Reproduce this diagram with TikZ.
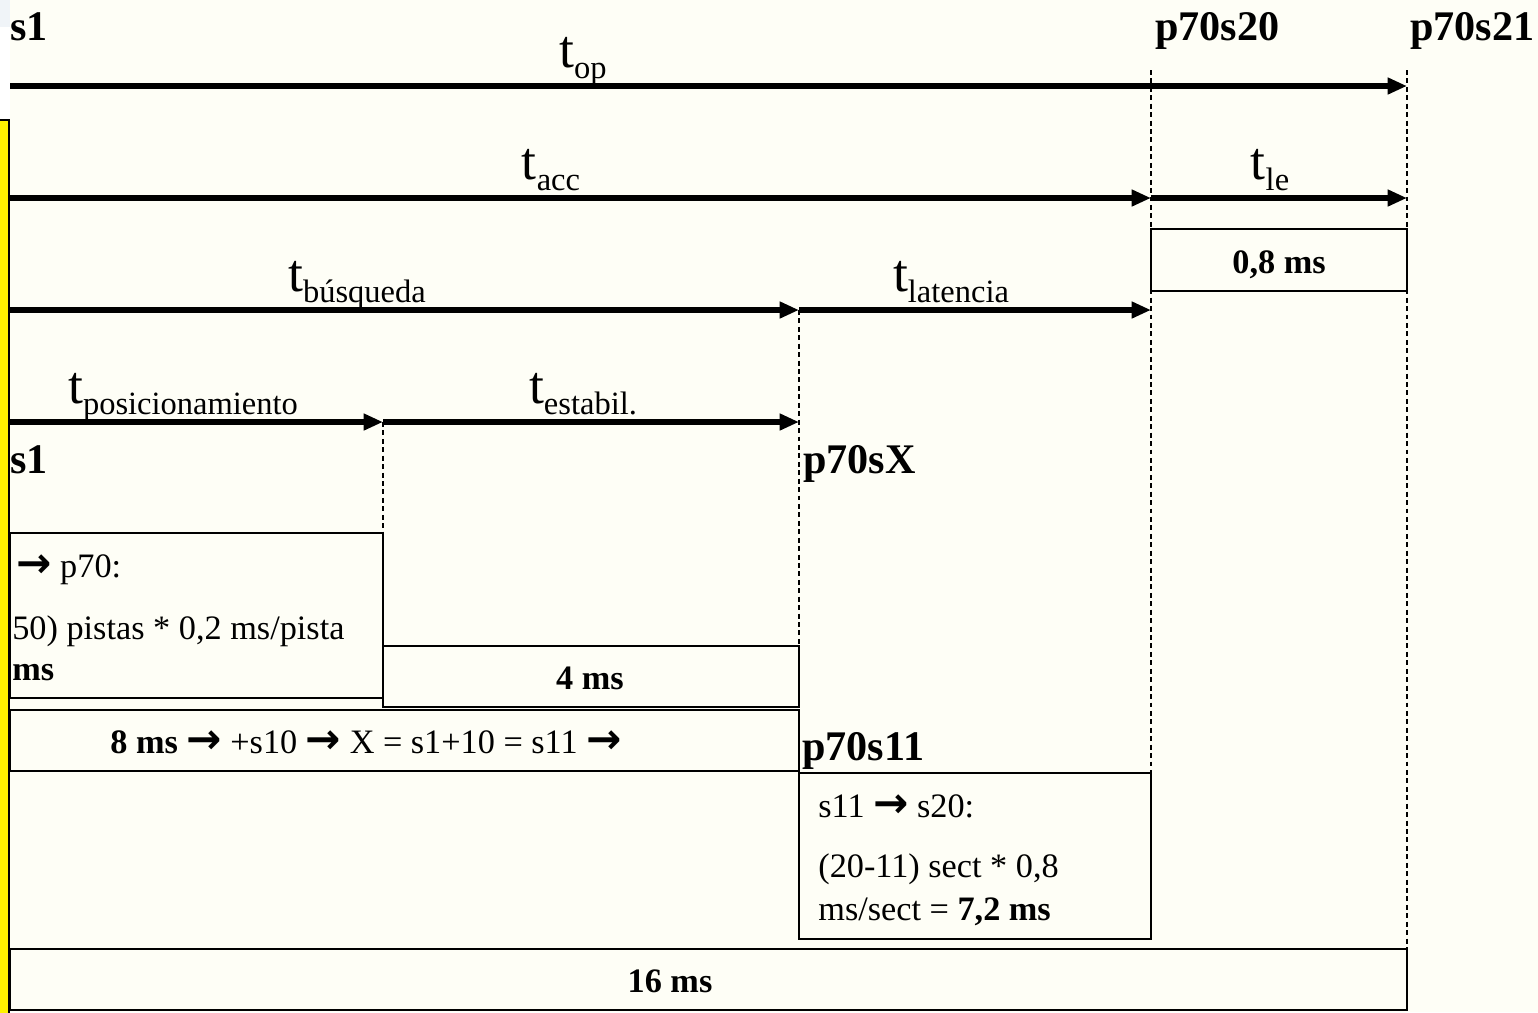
\documentclass[tikz,border=0pt]{standalone}
\usepackage{fontspec}
\setmainfont{Liberation Serif}
\newfontfamily\arrowfont{DejaVu Sans}
\usetikzlibrary{arrows.meta,positioning}
\definecolor{slidebg}{RGB}{254,254,246}
\definecolor{cornerbg}{RGB}{240,244,248}
\newcommand{\tlab}[1]{{\fontsize{30.5}{32}\selectfont t}\raisebox{-6.5pt}{\fontsize{18.5}{20}\selectfont #1}}
\newcommand{\ra}{{\arrowfont\fontsize{24}{24}\selectfont\bfseries\char"2192}}

\begin{document}
\begin{tikzpicture}[
  x=0.02cm, y=-0.02cm,
  span/.style={-{Triangle[length=11pt, width=9pt]}, line width=2.9pt},
  guide/.style={line width=0.9pt, dash pattern=on 2.8pt off 2pt},
  box/.style={draw, line width=1.1pt},
  timelab/.style={inner sep=0pt, anchor=base},
  pointlab/.style={inner sep=0pt, anchor=base west, font=\fontsize{24}{27}\selectfont\bfseries},
  boxtext/.style={inner sep=0pt, font=\fontsize{19.5}{22}\selectfont}
]
\fill[slidebg] (0,0) rectangle (1538,1012);
\useasboundingbox (0,0) rectangle (1538,1012);
\fill[cornerbg] (0,0) rectangle (10,27);
\fill[white] (0,27) rectangle (10,120);

% time marks
\coordinate (op0) at (10,86);   \coordinate (op1) at (1407,86);
\coordinate (acc0) at (10,198); \coordinate (acc1) at (1151,198); \coordinate (le1) at (1407,198);
\coordinate (bus0) at (10,310); \coordinate (bus1) at (799,310);  \coordinate (lat1) at (1151,310);
\coordinate (pos0) at (10,422); \coordinate (pos1) at (383,422);  \coordinate (est1) at (799,422);

% dashed guides
\coordinate (gC) at (1151,70);  \coordinate (gCend) at (1151,773);
\coordinate (gD) at (1407,70);  \coordinate (gDend) at (1407,949);
\draw[guide] (gC) -- (gCend);
\draw[guide] (gD) -- (gDend);
\draw[guide] (bus1) -- (799,645);
\draw[guide] (pos1) -- (383,533);

% point labels
\node[pointlab] (s1top) at (10,40) {s1};
\node[pointlab] (p70s20) at (1155,40) {p70s20};
\node[pointlab] (p70s21) at (1410,40) {p70s21};
\node[pointlab] (s1mid) at (10,473) {s1};
\node[pointlab] (p70sX) at (803,473) {p70sX};
\node[pointlab] (p70s11) at (802,760) {p70s11};

% spans
\draw[span] (op0) -- (op1);
\draw[span] (acc0) -- (acc1);
\draw[span] (acc1) -- (le1);
\draw[span] (bus0) -- (bus1);
\draw[span] (bus1) -- (lat1);
\draw[span] (pos0) -- (pos1);
\draw[span] (pos1) -- (est1);
\node[timelab] (top) at (583,67) {\tlab{op}};
\node[timelab] (tacc) at (551,179) {\tlab{acc}};
\node[timelab] (tle) at (1270,179) {\tlab{le}};
\node[timelab] (tbus) at (357,291) {\tlab{búsqueda}};
\node[timelab] (tlat) at (951,291) {\tlab{latencia}};
\node[timelab] (tpos) at (183,403) {\tlab{posicionamiento}};
\node[timelab] (test) at (583,403) {\tlab{estabil.}};

% boxes
\draw[box] (1151,229) rectangle (1407,291);
\node[boxtext, anchor=base, font=\fontsize{19.5}{22}\selectfont\bfseries] (le ms) at (1279,273) {0,8 ms};
\draw[box] (10,533) rectangle (383,698);
\node[boxtext, anchor=base west] (pos a) at (16,577) {\ra\ p70:};
\node[boxtext, anchor=base west] (pos b) at (12,639) {50) pistas * 0,2 ms/pista};
\node[boxtext, anchor=base west, font=\fontsize{19.5}{22}\selectfont\bfseries] (pos c) at (12,680) {ms};
\draw[box] (383,646) rectangle (799,707);
\node[boxtext, anchor=base, font=\fontsize{19.5}{22}\selectfont\bfseries] (est ms) at (590,689) {4 ms};
\draw[box] (10,710) rectangle (799,771);
\node[boxtext, anchor=base west] (rot) at (110,753) {\textbf{8 ms} \ra\ +s10 \ra\ X = s1+10 = s11 \ra};
\draw[box] (799,773) rectangle (1151,939);
\node[boxtext, anchor=base west] (lat a) at (818,817) {s11 \ra\ s20:};
\node[boxtext, anchor=base west] (lat b) at (818,877) {(20-11) sect * 0,8};
\node[boxtext, anchor=base west] (lat c) at (818,920) {ms/sect = \textbf{7,2 ms}};
\draw[box] (10,949) rectangle (1407,1010);
\node[boxtext, anchor=base, font=\fontsize{19.5}{22}\selectfont\bfseries] (op ms) at (670,992) {16 ms};

% yellow strip
\draw[fill=yellow, line width=1.4pt] (-10,120) rectangle (9,1030);
\end{tikzpicture}
\end{document}
